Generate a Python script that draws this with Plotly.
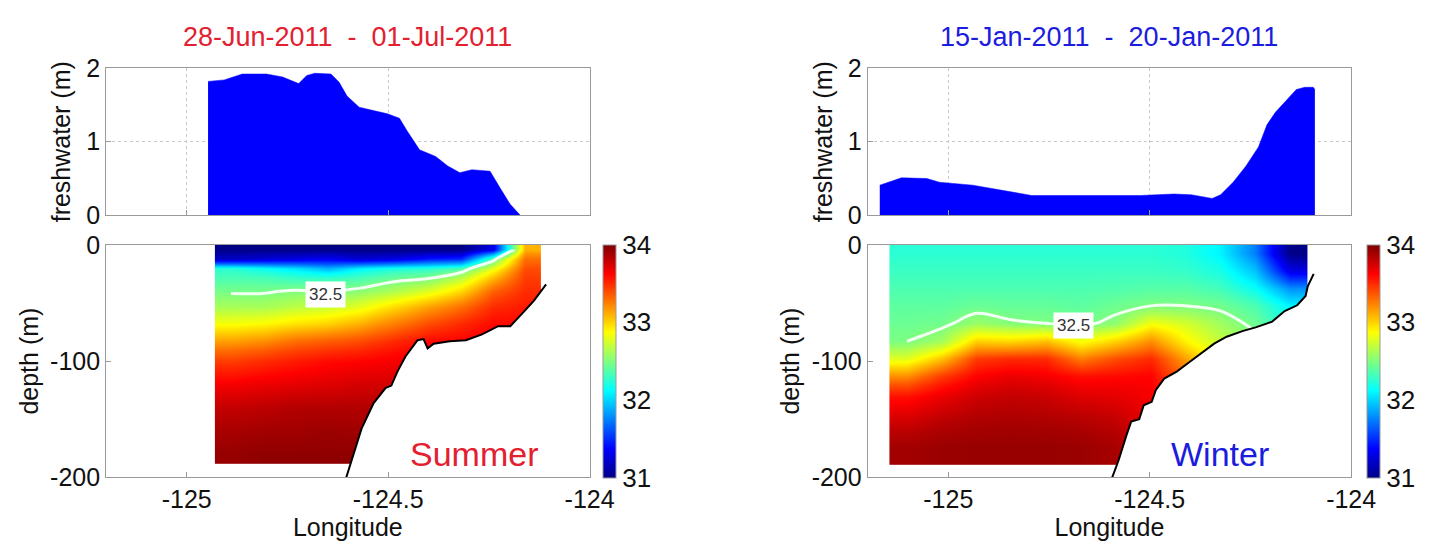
import numpy as np
import plotly.graph_objects as go

# ---------------- data ----------------
# Freshwater thickness (m) along the section
sum_fw_lon = [-124.947, -124.907, -124.862, -124.802, -124.762, -124.722, -124.702, -124.682,
              -124.642, -124.622, -124.602, -124.572, -124.542, -124.502, -124.472, -124.452,
              -124.422, -124.382, -124.352, -124.322, -124.292, -124.247, -124.222, -124.197, -124.172]
sum_fw_val = [1.82, 1.84, 1.92, 1.92, 1.88, 1.79, 1.90, 1.93,
              1.92, 1.81, 1.62, 1.47, 1.43, 1.38, 1.32, 1.14,
              0.89, 0.80, 0.67, 0.58, 0.62, 0.60, 0.37, 0.15, 0.0]

win_fw_lon = [-125.170, -125.147, -125.116, -125.053, -125.022, -124.939, -124.876, -124.793,
              -124.626, -124.522, -124.440, -124.397, -124.345, -124.324, -124.293, -124.261,
              -124.230, -124.209, -124.188, -124.157, -124.136, -124.115, -124.094, -124.090]
win_fw_val = [0.41, 0.45, 0.51, 0.50, 0.45, 0.41, 0.35, 0.27,
              0.27, 0.27, 0.29, 0.28, 0.23, 0.28, 0.45, 0.67,
              0.93, 1.23, 1.40, 1.58, 1.71, 1.74, 1.74, 1.71]

# Salinity sections (cell edges + cell values)
sum_lon_edges = [-124.93, -124.85, -124.77, -124.69, -124.61, -124.53, -124.44, -124.36, -124.28, -124.20, -124.12]
sum_dep_edges = [0, -8, -16, -24, -34, -46, -60, -75, -90, -110, -130, -150, -170, -188]
sum_sal = [
    [31.00, 31.00, 31.00, 31.00, 31.00, 31.00, 31.00, 31.00, 31.30, 33.10],
    [31.20, 31.25, 31.30, 31.35, 31.25, 31.30, 31.45, 31.50, 32.40, 33.30],
    [32.25, 32.15, 32.05, 31.90, 32.10, 32.20, 32.25, 32.35, 32.80, 33.40],
    [32.35, 32.35, 32.30, 32.30, 32.35, 32.45, 32.50, 32.70, 33.10, 33.45],
    [32.48, 32.48, 32.52, 32.50, 32.55, 32.65, 32.80, 33.00, 33.35, 33.50],
    [32.62, 32.62, 32.68, 32.72, 32.80, 32.98, 33.15, 33.30, 33.50, 33.55],
    [32.85, 32.88, 32.95, 33.00, 33.10, 33.25, 33.40, 33.50, 33.60, 33.60],
    [33.15, 33.20, 33.30, 33.35, 33.40, 33.50, 33.60, 33.62, 33.65, 33.65],
    [33.45, 33.50, 33.55, 33.60, 33.62, 33.65, 33.68, 33.70, 33.70, 33.70],
    [33.65, 33.68, 33.70, 33.72, 33.75, 33.75, 33.75, 33.75, 33.75, 33.75],
    [33.80, 33.82, 33.85, 33.85, 33.85, 33.85, 33.85, 33.85, 33.85, 33.85],
    [33.88, 33.90, 33.90, 33.92, 33.90, 33.90, 33.90, 33.90, 33.90, 33.90],
    [33.93, 33.95, 33.95, 33.95, 33.95, 33.95, 33.95, 33.95, 33.95, 33.95],
]

win_lon_edges = [-125.146, -125.060, -124.973, -124.887, -124.800, -124.714, -124.627,
                 -124.541, -124.454, -124.368, -124.281, -124.195, -124.108]
win_dep_edges = [0, -15, -30, -45, -60, -75, -90, -105, -120, -140, -160, -189]
win_sal = [
    [32.25, 32.25, 32.25, 32.25, 32.25, 32.25, 32.25, 32.25, 32.22, 32.10, 31.75, 31.00],
    [32.30, 32.30, 32.30, 32.30, 32.30, 32.30, 32.30, 32.30, 32.28, 32.20, 31.95, 31.30],
    [32.35, 32.35, 32.35, 32.35, 32.35, 32.35, 32.36, 32.38, 32.38, 32.32, 32.15, 31.80],
    [32.40, 32.40, 32.44, 32.42, 32.42, 32.40, 32.45, 32.50, 32.50, 32.46, 32.35, 32.10],
    [32.44, 32.46, 32.58, 32.52, 32.50, 32.46, 32.55, 32.85, 32.75, 32.60, 32.45, 32.20],
    [32.49, 32.60, 33.00, 32.98, 33.05, 32.85, 33.00, 33.20, 32.90, 32.70, 32.55, 32.25],
    [32.78, 33.05, 33.45, 33.50, 33.50, 33.25, 33.40, 33.50, 33.15, 32.80, 32.60, 32.30],
    [33.20, 33.45, 33.62, 33.68, 33.65, 33.58, 33.60, 33.62, 33.30, 32.85, 32.65, 32.30],
    [33.58, 33.68, 33.77, 33.80, 33.78, 33.72, 33.70, 33.65, 33.35, 32.90, 32.65, 32.30],
    [33.75, 33.82, 33.86, 33.87, 33.86, 33.84, 33.80, 33.68, 33.40, 32.90, 32.65, 32.30],
    [33.90, 33.92, 33.93, 33.93, 33.93, 33.92, 33.88, 33.70, 33.40, 32.90, 32.65, 32.30],
]

# Bathymetry along the section (lon, depth m)
sum_bot_lon = [-124.604, -124.586, -124.566, -124.536, -124.506, -124.492, -124.477, -124.457,
               -124.427, -124.412, -124.402, -124.387, -124.347, -124.307, -124.267, -124.227,
               -124.197, -124.167, -124.138, -124.108]
sum_bot_dep = [-200, -180, -158, -136, -123, -121, -109, -96,
               -82, -81, -89, -85, -83, -82, -77, -70,
               -70, -59, -48, -34]

win_bot_lon = [-124.593, -124.577, -124.557, -124.546, -124.526, -124.515, -124.495, -124.485,
               -124.464, -124.433, -124.402, -124.371, -124.340, -124.309, -124.268, -124.237,
               -124.196, -124.165, -124.134, -124.113, -124.108, -124.093]
win_bot_dep = [-200, -185, -163, -152, -150, -138, -135, -125,
               -115, -109, -101, -93, -85, -79, -74, -71,
               -66, -57, -52, -44, -36, -25]

contour_level = 32.5
sum_label = (-124.656, -42.6)
win_label = (-124.69, -69.7)

titles = ["28-Jun-2011  -  01-Jul-2011", "15-Jan-2011  -  20-Jan-2011"]
title_colors = ["rgb(226,32,48)", "rgb(28,28,222)"]
season = ["Summer", "Winter"]
season_pos = [(-124.287, -180), (-124.325, -180)]

lon_range = [-125.2, -124.0]
lon_ticks = [-125, -124.5, -124]
lon_ticktext = ["-125", "-124.5", "-124"]
dep_range = [-200, 0]
dep_ticks = [0, -100, -200]
dep_ticktext = ["0", "-100", "-200"]
fw_range = [0, 2]
fw_ticks = [0, 1, 2]
cb_ticks = [31, 32, 33, 34]

# ---------------- figure ----------------
jet = [[0, "rgb(0,0,135)"], [0.125, "rgb(0,0,255)"], [0.375, "rgb(0,255,255)"],
       [0.625, "rgb(255,255,0)"], [0.875, "rgb(255,0,0)"], [1, "rgb(128,0,0)"]]

FONT = "Liberation Sans, Arial, Helvetica, sans-serif"
W, H = 1441, 557
col_x = [(108, 600), (883, 1375)]
top_y = (57, 212)
bot_y = (243, 488)
cb_x = [614, 1391]


def px2x(p):
    return p / W


def px2y(p):
    return 1 - p / H


fig = go.Figure()
frame = dict(showline=True, linecolor="#9a9a9a", linewidth=1, mirror=True, ticks="inside",
             ticklen=5, tickcolor="#9a9a9a", zeroline=False,
             tickfont=dict(family=FONT, size=25, color="#111"))

layout = {}
sections = [
    (sum_fw_lon, sum_fw_val, sum_lon_edges, sum_dep_edges, sum_sal, sum_bot_lon, sum_bot_dep, sum_label),
    (win_fw_lon, win_fw_val, win_lon_edges, win_dep_edges, win_sal, win_bot_lon, win_bot_dep, win_label),
]

for i, (fl, fv, le, de, z, bl, bd, lab) in enumerate(sections):
    xt = f"x{2*i+1}" if 2*i+1 > 1 else "x"
    yt = f"y{2*i+1}" if 2*i+1 > 1 else "y"
    xb = f"x{2*i+2}"
    yb = f"y{2*i+2}"
    xdom = [px2x(col_x[i][0]), px2x(col_x[i][1])]

    # top: freshwater
    fig.add_trace(go.Scatter(x=fl, y=fv, mode="lines", fill="tozeroy",
                             line=dict(color="rgb(0,0,255)", width=0.5),
                             fillcolor="rgb(0,0,255)", xaxis=xt, yaxis=yt, showlegend=False))

    # bottom: salinity
    fig.add_trace(go.Heatmap(x=le, y=de, z=z, zsmooth="best", colorscale=jet, zmin=31, zmax=34,
                             xaxis=xb, yaxis=yb,
                             colorbar=dict(x=px2x(cb_x[i]), xanchor="left", y=px2y((bot_y[0]+bot_y[1])/2),
                                           yanchor="middle", len=(bot_y[1]-bot_y[0])/H, lenmode="fraction",
                                           thickness=13, thicknessmode="pixels",
                                           outlinewidth=1, outlinecolor="#9a9a9a",
                                           tickvals=cb_ticks, ticks="", ticklabelposition="outside",
                                           tickfont=dict(family=FONT, size=26, color="#111"), xpad=0, ypad=0)))
    lc = 0.5 * (np.array(le[:-1]) + np.array(le[1:]))
    dc = 0.5 * (np.array(de[:-1]) + np.array(de[1:]))
    fig.add_trace(go.Contour(x=lc, y=dc, z=z, showscale=False, xaxis=xb, yaxis=yb,
                             contours=dict(start=contour_level, end=contour_level, size=1, coloring="none"),
                             line=dict(color="rgba(255,255,255,0.9)", width=3, smoothing=1.0),
                             hoverinfo="skip"))
    # mask below sea floor
    fig.add_trace(go.Scatter(x=bl + [bl[-1]], y=bd + [dep_range[0]], mode="lines", fill="toself",
                             fillcolor="white", line=dict(width=0), xaxis=xb, yaxis=yb,
                             showlegend=False, hoverinfo="skip"))
    fig.add_trace(go.Scatter(x=bl, y=bd, mode="lines", line=dict(color="black", width=2),
                             xaxis=xb, yaxis=yb, showlegend=False))

    ax_t = dict(frame, domain=xdom, range=lon_range, anchor=yt, tickvals=lon_ticks, showticklabels=False,
                showgrid=True, gridcolor="#c8c8c8", griddash="dot", gridwidth=1)
    ay_t = dict(frame, domain=[px2y(top_y[1]), px2y(top_y[0])], range=fw_range, anchor=xt, tickvals=fw_ticks,
                showgrid=True, gridcolor="#c8c8c8", griddash="dot", gridwidth=1,
                title=dict(text="freshwater (m)", font=dict(family=FONT, size=25, color="#111"), standoff=8))
    ax_b = dict(frame, domain=xdom, range=lon_range, anchor=yb, tickvals=lon_ticks, ticktext=lon_ticktext,
                showgrid=False,
                title=dict(text="Longitude", font=dict(family=FONT, size=25, color="#111"), standoff=4))
    ay_b = dict(frame, domain=[px2y(bot_y[1]), px2y(bot_y[0])], range=dep_range, anchor=xb, tickvals=dep_ticks,
                ticktext=dep_ticktext, showgrid=False,
                title=dict(text="depth (m)", font=dict(family=FONT, size=25, color="#111"), standoff=4))
    kt = "" if i == 0 else str(2*i+1)
    kb = str(2*i+2)
    layout["xaxis" + kt] = ax_t
    layout["yaxis" + kt] = ay_t
    layout["xaxis" + kb] = ax_b
    layout["yaxis" + kb] = ay_b

annotations = []
for i in range(2):
    xt = "x" if i == 0 else "x3"
    xb = f"x{2*i+2}"
    yb = f"y{2*i+2}"
    annotations.append(dict(text=titles[i], xref=f"{xt} domain", x=0.5, yref="paper", y=px2y(24),
                            showarrow=False, font=dict(family=FONT, size=27, color=title_colors[i]),
                            xanchor="center", yanchor="middle"))
    annotations.append(dict(text=season[i], xref=xb, yref=yb, x=season_pos[i][0], y=season_pos[i][1],
                            showarrow=False, font=dict(family=FONT, size=34, color=title_colors[i]),
                            xanchor="center", yanchor="middle"))
    lab = sections[i][7]
    annotations.append(dict(text="32.5", xref=xb, yref=yb, x=lab[0], y=lab[1], showarrow=False,
                            bgcolor="white", borderpad=3,
                            font=dict(family=FONT, size=17, color="#333"),
                            xanchor="center", yanchor="middle"))

fig.update_layout(width=W, height=H, margin=dict(l=0, r=0, t=0, b=0),
                  paper_bgcolor="white", plot_bgcolor="white", showlegend=False,
                  annotations=annotations, **layout)

fig.write_html("out.html", config={"displayModeBar": False},
               post_script="document.body.style.margin='0px';document.body.style.overflow='hidden';")
